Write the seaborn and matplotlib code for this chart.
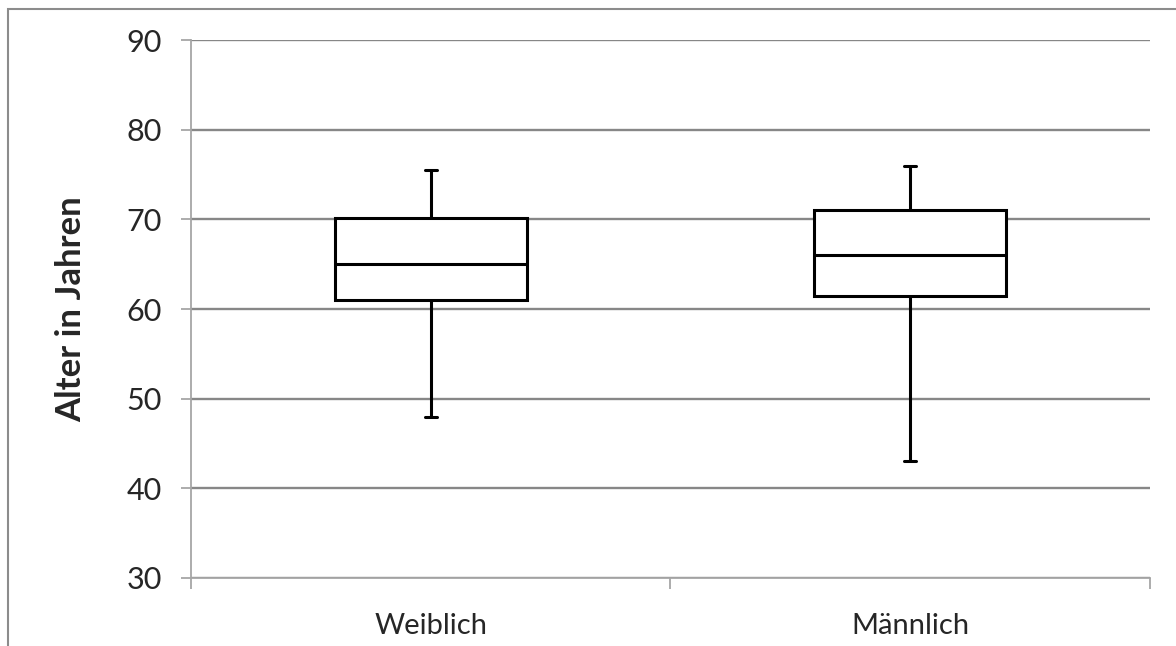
import matplotlib
matplotlib.use("Agg")
import matplotlib.pyplot as plt
import matplotlib.patches as mpatches
import seaborn as sns
import pandas as pd

# five-number summaries (min, Q1, median, Q3, max)
categories = ["Weiblich", "Männlich"]
weiblich = [48, 61, 65, 70.2, 75.5]
maennlich = [43, 61.5, 66, 71, 76]
y_ticks = [30, 40, 50, 60, 70, 80, 90]

df = pd.DataFrame({
    "Geschlecht": [categories[0]] * len(weiblich) + [categories[1]] * len(maennlich),
    "Alter": weiblich + maennlich,
})

sns.set_style("white")
plt.rcParams["font.family"] = ["Lato", "DejaVu Sans"]

fig = plt.figure(figsize=(11.76, 6.46), dpi=100)
ax = fig.add_axes([0.1624, 0.1053, 0.8155, 0.8327])

# outer chart frame (cut off at right and bottom like the reference)
fig.patches.append(mpatches.Rectangle((0.0068, -0.1), 1.2, 1.0868, transform=fig.transFigure,
                                      fill=False, edgecolor="#8c8c8c", linewidth=1.5))

sns.boxplot(data=df, x="Geschlecht", y="Alter", order=categories, ax=ax,
            whis=(0, 100), width=0.4, fill=True, color="white",
            linecolor="black", linewidth=2.2, capwidths=0.025)
for p in ax.patches:
    p.set_facecolor("white")
    p.set_zorder(3)
for l in ax.lines:
    l.set_zorder(4)

ax.set_xlim(-0.5, 1.5)
ax.set_ylim(30, 90)
ax.set_yticks(y_ticks)
ax.yaxis.grid(True, color="#878787", linewidth=1.7)
ax.set_axisbelow(True)

for s in ["top", "right"]:
    ax.spines[s].set_visible(False)
ax.spines["left"].set_color("#a6a6a6")
ax.spines["bottom"].set_color("#a6a6a6")
ax.spines["left"].set_linewidth(1.3)
ax.spines["bottom"].set_linewidth(1.3)

ax.tick_params(axis="y", which="major", length=7, width=1.3, color="#a6a6a6",
               labelsize=22, pad=14, left=True)
ax.set_xticks([-0.5, 0.5, 1.5], minor=True)
ax.tick_params(axis="x", which="minor", length=8, width=1.3, color="#a6a6a6", bottom=True)
ax.tick_params(axis="x", which="major", length=0, labelsize=21, pad=25)

ax.set_xlabel("")
ax.set_ylabel("Alter in Jahren", fontsize=25, fontweight="bold", labelpad=28)

fig.savefig("out.png", dpi=100)
